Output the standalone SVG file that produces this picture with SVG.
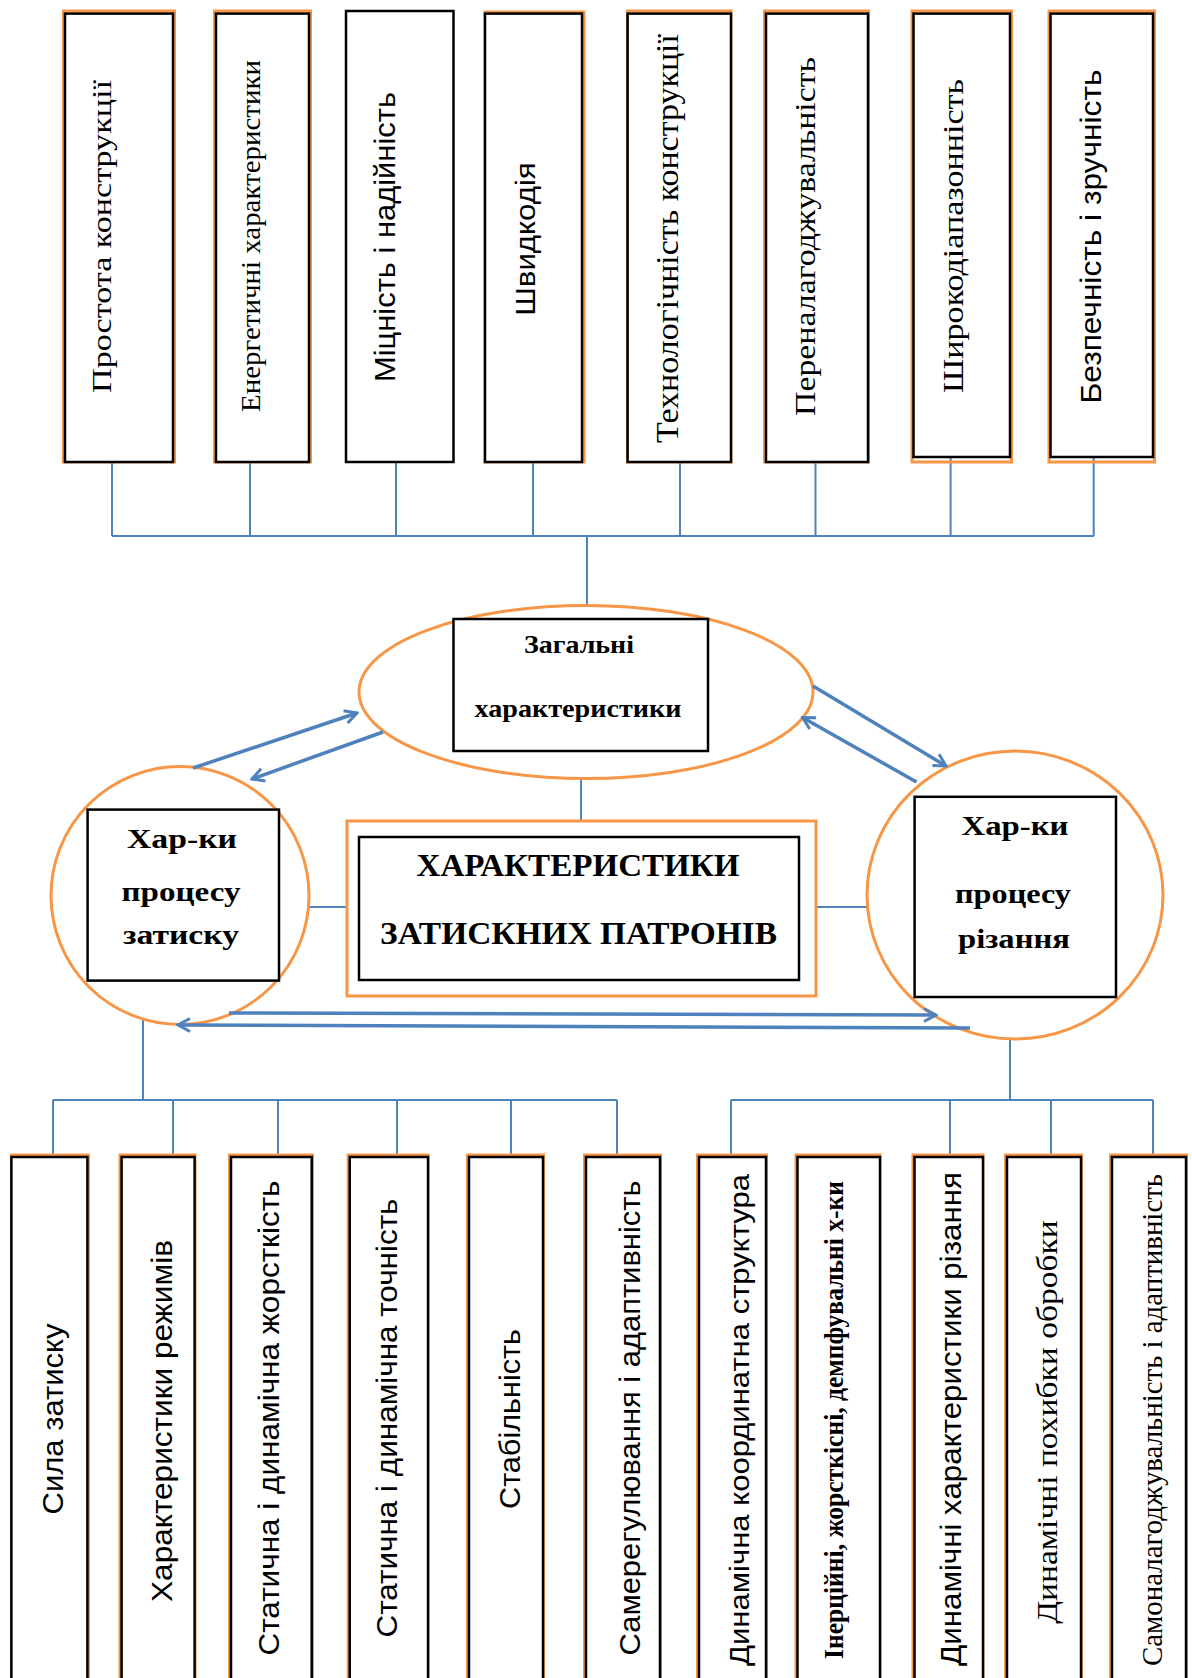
<svg xmlns="http://www.w3.org/2000/svg" width="1192" height="1678" viewBox="0 0 1192 1678">
<style>
.bg{fill:#fff}
.box{fill:#fff;stroke:#000;stroke-width:2.5}
.ob{fill:none;stroke:#F79646;stroke-width:3}
.oval{fill:#fff;stroke:#F79646;stroke-width:3}
.conn{fill:none;stroke:#4F81BD;stroke-width:2}
.arr{fill:none;stroke:#4F81BD;stroke-width:3.5;marker-end:url(#ah)}
.sf{font-family:"Liberation Serif","Times New Roman",serif;fill:#000}
.ss{font-family:"Liberation Sans",Arial,sans-serif;fill:#000}
.b{font-weight:bold}
.v{text-anchor:middle}
</style>
<defs>
<marker id="ah" viewBox="0 0 16 16" refX="14" refY="8" markerWidth="16" markerHeight="16" markerUnits="userSpaceOnUse" orient="auto">
<path d="M2,1.5 L14,8 L2,14.5" fill="none" stroke="#4F81BD" stroke-width="3"/>
</marker>
</defs>
<rect class="bg" x="0" y="0" width="1192" height="1678"/>

<g id="connectors">
<path class="conn" d="M112,462V536M250,462V536M396,462V536M533,462V536M680,462V536M815.5,462V536M950.6,457V536M1093.7,457V536M112,536H1094M587,536V606"/>
<path class="conn" d="M581,778V821M309,907H347M816,907H867"/>
<path class="conn" d="M143,1016V1100M53,1100H617M53,1100V1157M173,1100V1157M278,1100V1157M397,1100V1157M511,1100V1157M617,1100V1157"/>
<path class="conn" d="M1010,1039V1100M731,1100H1153M731,1100V1157M950,1100V1157M1051,1100V1157M1153,1100V1157"/>
</g>

<g id="top-boxes">
<g id="t1"><rect class="ob" x="63.5" y="11" width="111" height="451"/><rect class="box" x="65" y="13.6" width="108" height="448.4"/>
<text class="sf v" font-size="28" transform="translate(111,236.5) rotate(-90)" textLength="313" lengthAdjust="spacingAndGlyphs">Простота конструкції</text></g>
<g id="t2"><rect class="ob" x="214.5" y="11" width="96" height="451"/><rect class="box" x="216" y="13.6" width="93" height="448.4"/>
<text class="sf" font-size="27" text-anchor="middle" transform="translate(259.5,236) rotate(-90)" textLength="352" lengthAdjust="spacingAndGlyphs">Енергетичні характеристики</text></g>
<g id="t3"><rect class="box" x="346" y="11" width="107.5" height="451"/>
<text class="ss v" font-size="30" transform="translate(395,237) rotate(-90)" textLength="290" lengthAdjust="spacingAndGlyphs">Міцність і надійність</text></g>
<g id="t4"><rect class="ob" x="485" y="12" width="99" height="450"/><rect class="box" x="485" y="13.6" width="97" height="448.4"/>
<text class="ss v" font-size="28" transform="translate(535,239) rotate(-90)" textLength="153.5" lengthAdjust="spacingAndGlyphs">Швидкодія</text></g>
<g id="t5"><rect class="ob" x="627.6" y="11" width="103.4" height="451"/><rect class="box" x="627.6" y="13.6" width="103.4" height="448.4"/>
<text class="sf v" font-size="31" transform="translate(678,238.5) rotate(-90)" textLength="409" lengthAdjust="spacingAndGlyphs">Технологічність конструкції</text></g>
<g id="t6"><rect class="ob" x="764.5" y="11" width="104" height="451"/><rect class="box" x="766" y="13.6" width="102" height="448.4"/>
<text class="sf v" font-size="30" transform="translate(815,236.5) rotate(-90)" textLength="359" lengthAdjust="spacingAndGlyphs">Переналагоджувальність</text></g>
<g id="t7"><rect class="ob" x="912" y="11" width="99.5" height="451"/><rect class="box" x="913.5" y="13.6" width="96.5" height="443.4"/>
<text class="sf v" font-size="30" transform="translate(962.5,236) rotate(-90)" textLength="314" lengthAdjust="spacingAndGlyphs">Широкодіапазонність</text></g>
<g id="t8"><rect class="ob" x="1049" y="11" width="105.5" height="451"/><rect class="box" x="1050.5" y="13.6" width="102.5" height="443.4"/>
<text class="ss v" font-size="29" transform="translate(1101,236.6) rotate(-90)" textLength="334" lengthAdjust="spacingAndGlyphs">Безпечність і зручність</text></g>
</g>

<g id="general">
<ellipse class="oval" cx="586" cy="692" rx="227" ry="86.5"/>
<rect class="box" x="453.5" y="619" width="254.5" height="132" stroke-width="2"/>
<text class="sf b v" font-size="26" x="579" y="653" textLength="110" lengthAdjust="spacingAndGlyphs">Загальні</text>
<text class="sf b v" font-size="26" x="578" y="717" textLength="207" lengthAdjust="spacingAndGlyphs">характеристики</text>
</g>

<g id="center">
<rect class="ob" x="347" y="821" width="469" height="175" stroke-width="3.5"/>
<rect class="box" x="359" y="837" width="440" height="143"/>
<text class="sf b v" font-size="31" x="578" y="876" textLength="323" lengthAdjust="spacingAndGlyphs">ХАРАКТЕРИСТИКИ</text>
<text class="sf b v" font-size="31" x="578.5" y="944" textLength="397" lengthAdjust="spacingAndGlyphs">ЗАТИСКНИХ ПАТРОНІВ</text>
</g>

<g id="clamping">
<circle class="oval" cx="180" cy="895.5" r="129"/>
<rect class="box" x="87.6" y="809.6" width="191.4" height="171" stroke-width="2"/>
<text class="sf b v" font-size="28" x="182" y="848" textLength="110" lengthAdjust="spacingAndGlyphs">Хар-ки</text>
<text class="sf b v" font-size="28" x="181" y="901" textLength="119" lengthAdjust="spacingAndGlyphs">процесу</text>
<text class="sf b v" font-size="28" x="181" y="944" textLength="116" lengthAdjust="spacingAndGlyphs">затиску</text>
</g>

<g id="cutting">
<ellipse class="oval" cx="1015" cy="895" rx="148" ry="144"/>
<rect class="box" x="914.6" y="796.8" width="201.4" height="200.2" stroke-width="2"/>
<text class="sf b v" font-size="28" x="1015" y="835" textLength="107" lengthAdjust="spacingAndGlyphs">Хар-ки</text>
<text class="sf b v" font-size="28" x="1013" y="903" textLength="116" lengthAdjust="spacingAndGlyphs">процесу</text>
<text class="sf b v" font-size="28" x="1014" y="948" textLength="112" lengthAdjust="spacingAndGlyphs">різання</text>
</g>

<g id="arrows">
<path class="arr" d="M193,768L357,713"/>
<path class="arr" d="M383,732L252,779"/>
<path class="arr" d="M813,686L946,766"/>
<path class="arr" d="M916.5,782L802.5,717.5"/>
<path class="arr" d="M229,1013L936,1015"/>
<path class="arr" d="M970,1028L178,1025"/>
</g>

<g id="bottom-boxes">
<g id="b1"><rect class="ob" x="11.4" y="1155" width="77" height="540"/><rect class="box" x="11.4" y="1157" width="76" height="540"/>
<text class="ss v" font-size="30" transform="translate(63,1419) rotate(-90)" textLength="191" lengthAdjust="spacingAndGlyphs">Сила затиску</text></g>
<g id="b2"><rect class="ob" x="120" y="1155" width="75" height="540"/><rect class="box" x="121.6" y="1157" width="73" height="540"/>
<text class="ss v" font-size="30" transform="translate(171.5,1421) rotate(-90)" textLength="362" lengthAdjust="spacingAndGlyphs">Характеристики режимів</text></g>
<g id="b3"><rect class="ob" x="229.5" y="1155" width="83" height="540"/><rect class="box" x="231" y="1157" width="80.7" height="540"/>
<text class="ss v" font-size="30" transform="translate(278.6,1418) rotate(-90)" textLength="475" lengthAdjust="spacingAndGlyphs">Статична і динамічна жорсткість</text></g>
<g id="b4"><rect class="ob" x="348.2" y="1155" width="80" height="540"/><rect class="box" x="349.7" y="1157" width="78.3" height="540"/>
<text class="ss v" font-size="30" transform="translate(397,1418) rotate(-90)" textLength="439" lengthAdjust="spacingAndGlyphs">Статична і динамічна точність</text></g>
<g id="b5"><rect class="ob" x="467.5" y="1155" width="76" height="540"/><rect class="box" x="469" y="1157" width="74" height="540"/>
<text class="ss v" font-size="30" transform="translate(519.7,1419) rotate(-90)" textLength="180" lengthAdjust="spacingAndGlyphs">Стабільність</text></g>
<g id="b6"><rect class="ob" x="584.5" y="1155" width="76" height="540"/><rect class="box" x="586" y="1157" width="74" height="540"/>
<text class="ss v" font-size="30" transform="translate(640,1418) rotate(-90)" textLength="475" lengthAdjust="spacingAndGlyphs">Самерегулювання і адаптивність</text></g>
<g id="b7"><rect class="ob" x="697.5" y="1155" width="69" height="540"/><rect class="box" x="699" y="1157" width="67" height="540"/>
<text class="ss v" font-size="27" transform="translate(749,1420) rotate(-90)" textLength="492" lengthAdjust="spacingAndGlyphs">Динамічна координатна структура</text></g>
<g id="b8"><rect class="ob" x="796" y="1155" width="84" height="540"/><rect class="box" x="797.5" y="1157" width="82.5" height="540"/>
<text class="sf b v" font-size="28" transform="translate(842.7,1420) rotate(-90)" textLength="478" lengthAdjust="spacingAndGlyphs">Інерційні, жорсткісні, демпфувальні х-ки</text></g>
<g id="b9"><rect class="ob" x="913" y="1155" width="70" height="540"/><rect class="box" x="914.5" y="1157" width="68.5" height="540"/>
<text class="ss v" font-size="30" transform="translate(961.3,1419) rotate(-90)" textLength="494" lengthAdjust="spacingAndGlyphs">Динамічні характеристики різання</text></g>
<g id="b10"><rect class="ob" x="1005.5" y="1155" width="76" height="540"/><rect class="box" x="1007" y="1157" width="74" height="540"/>
<text class="sf v" font-size="30" transform="translate(1057,1422) rotate(-90)" textLength="403.6" lengthAdjust="spacingAndGlyphs">Динамічні похибки обробки</text></g>
<g id="b11"><rect class="ob" x="1110.5" y="1155" width="76" height="540"/><rect class="box" x="1112" y="1157" width="74" height="540"/>
<text class="sf v" font-size="30" transform="translate(1162,1420) rotate(-90)" textLength="492" lengthAdjust="spacingAndGlyphs">Самоналагоджувальність і адаптивність</text></g>
</g>
</svg>
